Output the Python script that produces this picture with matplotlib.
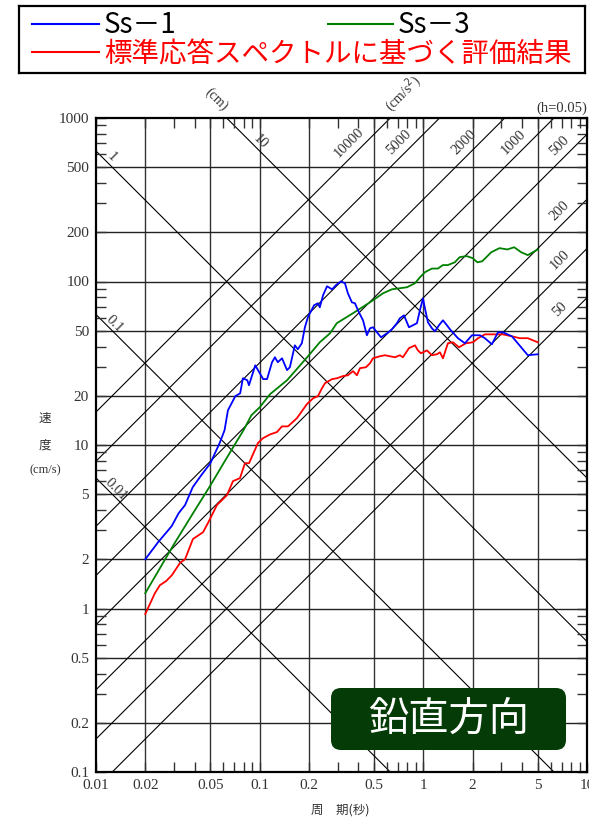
import numpy as np
import matplotlib
matplotlib.use('Agg')
from matplotlib import pyplot as plt
from matplotlib.patches import FancyBboxPatch

# Ss-1 (blue)
ss1_t = [0.020, 0.024, 0.029, 0.032, 0.035, 0.039, 0.044, 0.050, 0.057, 0.061, 0.064, 0.071,
         0.076, 0.079, 0.084, 0.086, 0.094, 0.105, 0.111, 0.119, 0.124, 0.129, 0.137, 0.147,
         0.153, 0.164, 0.171, 0.181, 0.189, 0.197, 0.215, 0.227, 0.233, 0.244, 0.258, 0.277,
         0.292, 0.314, 0.332, 0.346, 0.366, 0.382, 0.404, 0.428, 0.452, 0.472, 0.492, 0.521,
         0.551, 0.600, 0.643, 0.690, 0.719, 0.762, 0.817, 0.864, 0.914, 0.953, 0.995, 1.023,
         1.067, 1.129, 1.178, 1.246, 1.318, 1.393, 1.455, 1.627, 1.795, 1.982, 2.218, 2.377,
         2.624, 2.857, 3.063, 3.477, 4.00, 4.35, 5.00]
ss1_v = [2.0, 2.55, 3.19, 3.83, 4.29, 5.52, 6.54, 7.74, 10.3, 12.3, 16.3, 19.9,
         20.7, 25.6, 24.9, 23.2, 30.7, 25.3, 25.3, 32.1, 34.4, 32.1, 33.9, 28.7,
         29.9, 40.7, 38.5, 41.9, 52.5, 60.4, 71.6, 73.6, 69.5, 82.4, 93.5, 89.6,
         94.8, 100.2, 97.5, 84.7, 74.6, 73.6, 64.8, 57.9, 46.9, 51.7, 52.5, 48.9,
         45.6, 48.2, 51.0, 55.6, 59.6, 62.1, 52.5, 54.0, 55.6, 66.7, 78.9, 68.5,
         56.3, 51.7, 49.6, 54.0, 57.9, 54.0, 51.0, 45.0, 41.9, 46.9, 46.9, 45.0,
         41.3, 48.9, 48.9, 46.2, 39.1, 35.4, 35.9]

# Ss-3 (green)
ss3_t = [0.020, 0.030, 0.040, 0.050, 0.060, 0.070, 0.080, 0.089, 0.100, 0.116, 0.147, 0.195,
         0.233, 0.269, 0.296, 0.372, 0.472, 0.567, 0.643, 0.794, 0.888, 0.953, 1.023, 1.128,
         1.227, 1.317, 1.410, 1.556, 1.670, 1.842, 2.00, 2.14, 2.29, 2.60, 2.92, 3.26,
         3.59, 3.96, 4.35, 5.00]
ss3_v = [1.24, 2.48, 3.96, 5.66, 7.7, 9.95, 12.4, 15.2, 17.0, 20.5, 24.9, 34.4,
         42.5, 48.2, 55.6, 64.0, 74.6, 84.7, 89.6, 92.2, 97.5, 106, 114, 120,
         120, 126, 126, 131, 141, 143, 139, 131, 133, 151, 160, 157,
         162, 151, 145, 157]

# 標準応答スペクトルに基づく評価結果 (red)
std_t = [0.020, 0.0229, 0.0246, 0.0268, 0.0291, 0.0326, 0.035, 0.0391, 0.0451, 0.0483, 0.0548,
         0.0631, 0.0687, 0.0758, 0.0813, 0.0861, 0.0977, 0.1047, 0.1156, 0.1276, 0.1368, 0.149,
         0.169, 0.1945, 0.212, 0.227, 0.240, 0.251, 0.277, 0.297, 0.323, 0.346, 0.372, 0.393,
         0.410, 0.446, 0.472, 0.492, 0.543, 0.582, 0.625, 0.671, 0.719, 0.750, 0.817, 0.889,
         0.927, 0.967, 1.052, 1.129, 1.211, 1.263, 1.318, 1.413, 1.517, 1.65, 1.82, 2.01,
         2.16, 2.38, 2.66, 3.06, 3.48, 3.89, 4.35, 5.00]
std_v = [0.925, 1.24, 1.39, 1.47, 1.60, 1.90, 2.0, 2.66, 2.93, 3.33, 4.29,
         4.93, 6.01, 6.27, 7.74, 7.74, 10.3, 11.0, 11.6, 12.0, 13.0, 13.0,
         14.6, 17.8, 19.3, 19.9, 22.2, 23.9, 25.3, 25.6, 26.4, 26.7, 28.3, 26.7,
         29.5, 29.9, 31.6, 33.9, 34.9, 35.4, 34.9, 34.4, 35.4, 34.4, 39.1, 40.7,
         37.9, 36.4, 37.9, 35.4, 35.9, 36.9, 33.9, 41.9, 42.5, 39.6, 41.9, 42.5,
         45.0, 47.5, 47.5, 47.5, 46.2, 45.0, 45.0, 42.5]

# tripartite guide lines
disp_lines = [0.01, 0.1, 1, 10]                       # cm
disp_label_t = [0.0125, 0.0122, 0.0117, 0.094]
acc_lines = [50, 100, 200, 500, 1000, 2000, 5000, 10000]  # cm/s2

x_ticks = [0.01, 0.02, 0.05, 0.1, 0.2, 0.5, 1, 2, 5, 10]
x_labels = ['0.01', '0.02', '0.05', '0.1', '0.2', '0.5', '1', '2', '5', '10']
y_ticks = [0.1, 0.2, 0.5, 1, 2, 5, 10, 20, 50, 100, 200, 500, 1000]
y_labels = ['0.1', '0.2', '0.5', '1', '2', '5', '10', '20', '50', '100', '200', '500', '1000']

cjk = ['Noto Sans CJK JP', 'DejaVu Sans']
serif = 'Liberation Serif'
txt = '#333333'

fig = plt.figure(figsize=(5.89, 8.19), dpi=100)
ax = fig.add_axes([96/589, 47/819, 491/589, 654/819])
ax.set_xscale('log')
ax.set_yscale('log')
ax.set_xlim(0.01, 10)
ax.set_ylim(0.1, 1000)

# grid
for t in x_ticks[1:-1]:
    ax.axvline(t, color='#333333', lw=1.0, zorder=1)
for v in y_ticks[1:-1]:
    ax.axhline(v, color='#222222', lw=1.0, zorder=1)

tt = np.logspace(-2.2, 1.2, 50)
for d, tl in zip(disp_lines, disp_label_t):
    ax.plot(tt, 2*np.pi*d/tt, color='black', lw=0.8, zorder=1)
    ax.text(tl, 2*np.pi*d/tl, str(d), rotation=-45, rotation_mode='anchor',
            ha='center', va='bottom', fontsize=10.5, family=serif, color=txt)
for a in acc_lines:
    ax.plot(tt, a*tt/(2*np.pi), color='black', lw=0.8, zorder=1)
    tl = min(2*np.pi*631/a, 7.6)
    ax.annotate(str(a), (tl, a*tl/(2*np.pi)), xytext=(-8, 8), textcoords='offset pixels',
                rotation=45, ha='center', va='center', fontsize=10.5, family=serif, color=txt)

ax.plot(ss3_t, ss3_v, color='#008000', lw=1.3, zorder=3)
ax.plot(std_t, std_v, color='#ff0000', lw=1.3, zorder=3)
ax.plot(ss1_t, ss1_v, color='#0000ff', lw=1.3, zorder=4)

ax.set_xticks(x_ticks, x_labels)
ax.set_yticks(y_ticks, y_labels)
ax.xaxis.set_minor_locator(matplotlib.ticker.LogLocator(base=10, subs=(3, 4, 6, 7, 8, 9)))
ax.yaxis.set_minor_locator(matplotlib.ticker.LogLocator(base=10, subs=(3, 4, 6, 7, 8, 9)))
ax.xaxis.set_minor_formatter(matplotlib.ticker.NullFormatter())
ax.yaxis.set_minor_formatter(matplotlib.ticker.NullFormatter())
ax.tick_params(which='both', direction='in', top=True, right=True, width=1.0, color='#333333')
ax.tick_params(which='major', length=7, labelsize=11, labelcolor=txt, pad=5)
ax.tick_params(which='minor', length=7)
for lab in ax.get_xticklabels() + ax.get_yticklabels():
    lab.set_family(serif)
for s in ax.spines.values():
    s.set_linewidth(1.6)

ax.text(0.246, 1.028, '(cm)', transform=ax.transAxes, rotation=-45, ha='center', va='center',
        fontsize=10, family=serif, color=txt)
ax.text(0.625, 1.038, '(cm/s$^2$)', transform=ax.transAxes, rotation=45, ha='center', va='center',
        fontsize=10, family=serif, color=txt)
ax.text(1.0, 1.004, '(h=0.05)', transform=ax.transAxes, ha='right', va='bottom',
        fontsize=10.5, family=serif, color=txt)

fig.text(45/589, 1 - 418/819, '速', ha='center', va='center', fontsize=9, family=cjk, color=txt)
fig.text(45/589, 1 - 445/819, '度', ha='center', va='center', fontsize=9, family=cjk, color=txt)
fig.text(45/589, 1 - 470/819, '(cm/s)', ha='center', va='center', fontsize=9, family=serif, color=txt)
fig.text(340/589, 1 - 810/819, '周　期(秒)', ha='center', va='center', fontsize=9, family=cjk, color=txt)

# 鉛直方向 badge
badge = FancyBboxPatch((3.31, 0.69), 2.35, 0.62, boxstyle='round,pad=0,rounding_size=0.1',
                       transform=fig.dpi_scale_trans, facecolor='#053b06', edgecolor='none', zorder=10)
fig.patches.append(badge)
fig.text(4.485, 1.0, '鉛直方向', transform=fig.dpi_scale_trans, ha='center', va='center',
         fontsize=29, family=cjk, color='white', zorder=11)

# legend box
lg = fig.add_axes([19/589, (819-73)/819, 566/589, 67/819])
lg.set_xlim(19, 585)
lg.set_ylim(73, 6)
lg.set_xticks([])
lg.set_yticks([])
for s in lg.spines.values():
    s.set_linewidth(1.6)
lg.plot([32, 99], [24, 24], color='#0000ff', lw=1.5)
lg.text(104, 33, 'Ss－1', ha='left', va='baseline', fontsize=20, family=cjk, color='black')
lg.plot([328, 393], [24, 24], color='#008000', lw=1.5)
lg.text(398, 33, 'Ss－3', ha='left', va='baseline', fontsize=20, family=cjk, color='black')
lg.plot([32, 99], [52, 52], color='#ff0000', lw=1.5)
lg.text(104, 62, '標準応答スペクトルに基づく評価結果', ha='left', va='baseline', fontsize=19.8,
        family=cjk, color='#ff0000')

fig.savefig('out.png', dpi=100)
